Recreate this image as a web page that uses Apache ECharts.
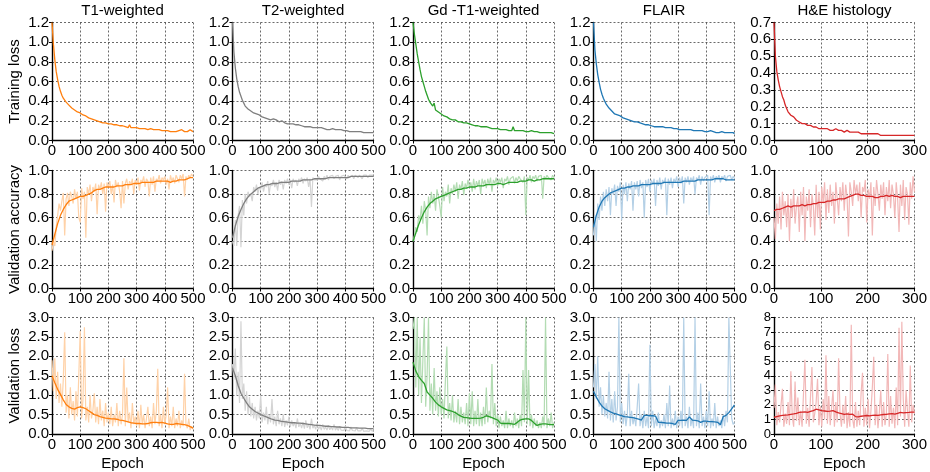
<!DOCTYPE html>
<html>
<head>
<meta charset="utf-8">
<script src="https://cdn.jsdelivr.net/npm/echarts@6/dist/echarts.min.js"></script>
<style>
  html, body { margin: 0; padding: 0; background: #fff; }
  #chart { width: 930px; height: 472px; }
</style>
</head>
<body>
<div id="chart"></div>
<script>
// column titles and row labels
const columns = ["T1-weighted", "T2-weighted", "Gd -T1-weighted", "FLAIR", "H&E histology"];
const rowNames = ["Training loss", "Validation accuracy", "Validation loss"];
const maxEpoch = [500, 500, 500, 500, 300];
const colors = ["#ff7f0e", "#7f7f7f", "#2ca02c", "#1f77b4", "#d62728"];
const lightColors = ["#ffd2a8", "#d4d4d4", "#b3dcb3", "#b4d0e6", "#f2b8b8"];

// training loss, every 5 epochs (H&E: every 3 epochs)
const trainT1 = [
  1.20,0.98,0.82,0.70,0.62,0.55,0.50,0.46,0.43,0.41,
  0.39,0.37,0.36,0.34,0.33,0.32,0.31,0.30,0.29,0.30,
  0.28,0.27,0.26,0.25,0.25,0.24,0.23,0.23,0.22,0.22,
  0.21,0.21,0.20,0.20,0.19,0.19,0.18,0.18,0.18,0.17,
  0.17,0.16,0.17,0.16,0.16,0.15,0.16,0.15,0.15,0.14,
  0.15,0.14,0.14,0.14,0.13,0.16,0.13,0.13,0.13,0.12,
  0.13,0.12,0.12,0.12,0.12,0.11,0.12,0.11,0.11,0.11,
  0.12,0.11,0.11,0.10,0.11,0.10,0.11,0.10,0.10,0.10,
  0.10,0.11,0.10,0.10,0.09,0.10,0.09,0.10,0.09,0.09,
  0.10,0.09,0.11,0.09,0.09,0.10,0.09,0.08,0.11,0.09,
  0.09];
const trainT2 = [
  1.20,0.90,0.74,0.63,0.55,0.49,0.45,0.41,0.38,0.35,
  0.33,0.32,0.30,0.30,0.29,0.28,0.27,0.27,0.26,0.26,
  0.25,0.24,0.24,0.23,0.24,0.22,0.22,0.21,0.21,0.22,
  0.20,0.21,0.20,0.19,0.19,0.20,0.18,0.18,0.19,0.17,
  0.17,0.17,0.16,0.17,0.16,0.16,0.15,0.16,0.15,0.15,
  0.15,0.14,0.15,0.14,0.14,0.14,0.16,0.13,0.14,0.13,
  0.13,0.13,0.12,0.13,0.12,0.12,0.12,0.11,0.12,0.11,
  0.11,0.12,0.11,0.11,0.10,0.11,0.10,0.11,0.10,0.10,
  0.11,0.10,0.10,0.09,0.10,0.09,0.10,0.09,0.09,0.09,
  0.09,0.09,0.09,0.08,0.09,0.08,0.09,0.08,0.08,0.08,
  0.08];
const trainGd = [
  1.20,1.08,0.98,0.88,0.80,0.72,0.65,0.60,0.55,0.50,
  0.46,0.42,0.39,0.37,0.35,0.38,0.31,0.30,0.29,0.28,
  0.27,0.26,0.25,0.24,0.24,0.23,0.22,0.22,0.21,0.21,
  0.21,0.20,0.19,0.20,0.19,0.18,0.18,0.17,0.18,0.17,
  0.17,0.16,0.16,0.16,0.15,0.15,0.15,0.14,0.14,0.14,
  0.14,0.13,0.14,0.13,0.13,0.13,0.12,0.13,0.12,0.12,
  0.12,0.12,0.11,0.12,0.11,0.11,0.11,0.11,0.10,0.11,
  0.10,0.14,0.10,0.10,0.10,0.10,0.10,0.09,0.10,0.09,
  0.09,0.09,0.09,0.09,0.10,0.09,0.09,0.08,0.09,0.08,
  0.08,0.08,0.08,0.09,0.08,0.08,0.08,0.08,0.08,0.07,
  0.07];
const trainFlair = [
  1.20,0.92,0.78,0.67,0.59,0.52,0.47,0.43,0.40,0.37,
  0.35,0.33,0.31,0.30,0.28,0.27,0.27,0.26,0.25,0.25,
  0.24,0.23,0.23,0.22,0.22,0.21,0.21,0.20,0.20,0.19,
  0.19,0.19,0.18,0.18,0.17,0.17,0.17,0.16,0.16,0.16,
  0.15,0.15,0.15,0.14,0.15,0.14,0.14,0.14,0.13,0.14,
  0.13,0.13,0.13,0.13,0.12,0.13,0.12,0.12,0.12,0.12,
  0.12,0.11,0.12,0.11,0.11,0.11,0.11,0.11,0.10,0.11,
  0.10,0.10,0.10,0.10,0.10,0.10,0.09,0.10,0.09,0.09,
  0.09,0.09,0.09,0.10,0.09,0.09,0.09,0.08,0.09,0.08,
  0.08,0.09,0.08,0.08,0.08,0.08,0.08,0.08,0.07,0.08,
  0.07];
const trainHE = [
  0.70,0.50,0.41,0.36,0.32,0.29,0.26,0.24,0.21,0.19,
  0.17,0.16,0.15,0.14,0.14,0.13,0.12,0.12,0.11,0.11,
  0.10,0.10,0.10,0.09,0.09,0.08,0.09,0.08,0.08,0.08,
  0.08,0.07,0.07,0.08,0.07,0.07,0.07,0.06,0.07,0.06,
  0.06,0.07,0.06,0.06,0.07,0.06,0.06,0.05,0.06,0.05,
  0.05,0.05,0.06,0.05,0.05,0.05,0.05,0.04,0.05,0.04,
  0.05,0.04,0.04,0.05,0.04,0.04,0.04,0.04,0.04,0.04,
  0.04,0.04,0.04,0.03,0.04,0.04,0.03,0.04,0.03,0.04,
  0.03,0.04,0.03,0.03,0.03,0.04,0.03,0.03,0.03,0.03,
  0.03,0.03,0.03,0.03,0.03,0.03,0.03,0.03,0.03,0.03,
  0.03];

// validation accuracy, raw every 5 epochs (H&E every 3)
const accRawT1 = [
  0.32,0.40,0.36,0.52,0.62,0.72,0.66,0.74,0.81,0.45,
  0.76,0.81,0.70,0.82,0.78,0.72,0.84,0.76,0.82,0.60,
  0.56,0.85,0.76,0.82,0.43,0.86,0.80,0.88,0.74,0.86,
  0.82,0.89,0.63,0.88,0.84,0.90,0.80,0.89,0.65,0.90,
  0.86,0.91,0.80,0.88,0.73,0.92,0.86,0.90,0.82,0.68,
  0.91,0.72,0.89,0.93,0.84,0.91,0.88,0.93,0.80,0.92,
  0.88,0.94,0.83,0.92,0.90,0.95,0.86,0.93,0.91,0.78,
  0.94,0.88,0.95,0.82,0.93,0.91,0.96,0.89,0.94,0.92,
  0.95,0.88,0.93,0.84,0.96,0.91,0.94,0.89,0.96,0.93,
  0.90,0.96,0.93,0.97,0.78,0.95,0.92,0.96,0.94,0.97,
  0.95];
const accRawT2 = [
  0.40,0.36,0.58,0.36,0.62,0.70,0.35,0.75,0.62,0.80,
  0.72,0.82,0.78,0.80,0.74,0.86,0.82,0.88,0.80,0.86,
  0.84,0.90,0.82,0.88,0.86,0.91,0.80,0.89,0.87,0.92,
  0.86,0.90,0.83,0.92,0.88,0.91,0.84,0.92,0.89,0.93,
  0.88,0.92,0.85,0.93,0.90,0.92,0.87,0.93,0.91,0.94,
  0.89,0.93,0.91,0.94,0.86,0.93,0.69,0.94,0.92,0.93,
  0.92,0.95,0.93,0.94,0.91,0.95,0.93,0.96,0.92,0.95,
  0.94,0.96,0.93,0.95,0.94,0.96,0.92,0.95,0.94,0.96,
  0.95,0.93,0.96,0.94,0.95,0.96,0.93,0.96,0.95,0.94,
  0.96,0.95,0.93,0.96,0.95,0.96,0.94,0.96,0.95,0.96,
  0.96];
const accRawGd = [
  0.40,0.45,0.52,0.48,0.62,0.58,0.70,0.55,0.74,0.66,
  0.45,0.78,0.68,0.82,0.72,0.80,0.66,0.84,0.78,0.70,
  0.60,0.86,0.74,0.82,0.78,0.88,0.72,0.85,0.80,0.88,
  0.82,0.90,0.76,0.88,0.84,0.91,0.79,0.89,0.85,0.92,
  0.86,0.90,0.82,0.93,0.84,0.91,0.87,0.92,0.80,0.93,
  0.88,0.92,0.85,0.93,0.88,0.94,0.82,0.92,0.89,0.94,
  0.87,0.93,0.90,0.94,0.85,0.93,0.91,0.95,0.88,0.93,
  0.92,0.95,0.89,0.94,0.91,0.95,0.93,0.94,0.90,0.95,
  0.62,0.94,0.92,0.96,0.90,0.95,0.93,0.96,0.91,0.95,
  0.94,0.96,0.76,0.95,0.93,0.96,0.94,0.95,0.92,0.96,
  0.94];
const accRawFlair = [
  0.45,0.62,0.40,0.72,0.58,0.78,0.66,0.82,0.70,0.84,
  0.74,0.86,0.62,0.85,0.80,0.88,0.70,0.87,0.82,0.90,
  0.58,0.88,0.80,0.90,0.74,0.89,0.84,0.91,0.66,0.90,
  0.84,0.91,0.78,0.92,0.85,0.90,0.60,0.92,0.86,0.93,
  0.82,0.92,0.88,0.93,0.70,0.92,0.87,0.94,0.84,0.92,
  0.89,0.94,0.62,0.93,0.88,0.94,0.85,0.93,0.90,0.95,
  0.86,0.94,0.89,0.95,0.72,0.94,0.90,0.95,0.88,0.94,
  0.91,0.95,0.80,0.94,0.92,0.96,0.88,0.95,0.91,0.94,
  0.93,0.96,0.62,0.95,0.92,0.96,0.90,0.95,0.93,0.96,
  0.90,0.95,0.93,0.96,0.91,0.95,0.94,0.96,0.92,0.95,
  0.93];
const accRawHE = [
  0.60,0.42,0.72,0.55,0.78,0.50,0.82,0.62,0.74,0.52,
  0.80,0.40,0.76,0.60,0.84,0.55,0.70,0.78,0.48,0.82,
  0.62,0.86,0.40,0.78,0.66,0.84,0.52,0.80,0.70,0.45,
  0.88,0.60,0.82,0.50,0.86,0.72,0.90,0.58,0.84,0.64,
  0.88,0.70,0.82,0.55,0.90,0.76,0.62,0.86,0.74,0.90,
  0.66,0.88,0.78,0.44,0.90,0.82,0.70,0.92,0.80,0.88,
  0.74,0.90,0.60,0.86,0.82,0.92,0.56,0.84,0.76,0.90,
  0.45,0.86,0.70,0.92,0.80,0.66,0.88,0.76,0.90,0.62,
  0.86,0.74,0.92,0.68,0.88,0.80,0.60,0.90,0.76,0.48,
  0.88,0.70,0.92,0.58,0.86,0.80,0.54,0.90,0.76,0.95,
  0.82];

// validation accuracy, smoothed, every 10 epochs (H&E every 6)
const accT1 = [
  0.37,0.46,0.55,0.62,0.67,0.71,0.74,0.75,0.76,0.77,
  0.78,0.78,0.79,0.80,0.81,0.83,0.84,0.84,0.85,0.86,
  0.86,0.86,0.86,0.87,0.87,0.87,0.88,0.88,0.88,0.89,
  0.89,0.89,0.90,0.90,0.90,0.90,0.90,0.91,0.91,0.91,
  0.91,0.91,0.90,0.91,0.91,0.92,0.92,0.92,0.93,0.94,
  0.94];
const accT2 = [
  0.43,0.53,0.61,0.67,0.72,0.76,0.79,0.81,0.83,0.85,
  0.86,0.87,0.88,0.88,0.89,0.89,0.89,0.90,0.90,0.90,
  0.90,0.91,0.91,0.91,0.91,0.92,0.92,0.92,0.92,0.93,
  0.93,0.93,0.93,0.93,0.94,0.94,0.94,0.94,0.94,0.94,
  0.94,0.94,0.95,0.95,0.95,0.95,0.95,0.95,0.95,0.95,
  0.95];
const accGd = [
  0.40,0.47,0.54,0.60,0.65,0.69,0.72,0.74,0.76,0.77,
  0.78,0.79,0.80,0.81,0.82,0.83,0.84,0.84,0.85,0.85,
  0.86,0.86,0.86,0.87,0.87,0.87,0.88,0.88,0.88,0.88,
  0.89,0.89,0.88,0.89,0.90,0.90,0.90,0.90,0.91,0.91,
  0.91,0.92,0.92,0.91,0.92,0.92,0.93,0.93,0.93,0.93,
  0.93];
const accFlair = [
  0.52,0.62,0.69,0.74,0.77,0.79,0.81,0.82,0.83,0.84,
  0.85,0.85,0.86,0.86,0.87,0.87,0.87,0.88,0.88,0.88,
  0.88,0.89,0.89,0.89,0.89,0.90,0.90,0.90,0.90,0.90,
  0.90,0.90,0.91,0.91,0.91,0.91,0.91,0.92,0.92,0.92,
  0.92,0.92,0.92,0.93,0.93,0.93,0.93,0.92,0.92,0.92,
  0.92];
const accHE = [
  0.66,0.67,0.67,0.68,0.69,0.70,0.69,0.70,0.70,0.70,
  0.71,0.70,0.71,0.71,0.72,0.72,0.73,0.73,0.73,0.74,
  0.74,0.75,0.75,0.76,0.76,0.76,0.77,0.78,0.79,0.80,
  0.80,0.79,0.79,0.78,0.78,0.78,0.77,0.77,0.78,0.78,
  0.79,0.78,0.79,0.78,0.78,0.77,0.78,0.78,0.78,0.78,
  0.78];

// validation loss, raw every 5 epochs (H&E every 3)
const lossRawT1 = [
  1.90,1.10,1.95,0.90,1.60,0.80,1.30,0.70,1.40,2.62,
  0.55,1.00,0.40,1.20,0.50,0.85,0.35,1.10,0.45,1.50,
  2.65,0.40,0.90,2.75,0.35,0.70,0.30,1.00,0.40,0.60,
  1.05,0.30,0.70,0.25,0.90,0.35,0.60,0.20,0.80,0.30,
  0.55,0.25,0.70,0.20,0.50,0.30,0.80,0.20,0.60,0.25,
  0.50,1.95,0.20,1.20,0.30,0.55,0.15,0.80,0.25,0.45,
  0.20,0.60,0.15,0.75,0.25,0.50,0.15,0.40,0.70,0.20,
  0.45,0.15,0.80,0.25,0.60,1.68,0.20,0.50,0.15,0.70,
  0.25,0.50,1.20,0.15,0.45,0.20,0.70,0.15,0.40,0.20,
  0.60,0.15,0.35,0.20,1.55,0.25,0.15,0.40,0.10,0.20,
  0.12];
const lossRawT2 = [
  1.80,1.40,2.20,1.00,1.60,0.80,2.90,0.90,1.30,0.60,
  1.10,0.50,0.95,0.45,0.80,0.40,0.70,0.35,0.60,0.40,
  1.00,0.30,0.55,0.35,0.70,0.25,0.50,0.30,0.90,0.25,
  0.45,0.20,0.60,0.25,0.40,0.20,0.50,0.18,0.35,0.22,
  0.45,0.18,0.35,0.20,0.30,0.15,0.40,0.18,0.28,0.15,
  0.30,0.14,0.35,0.16,0.25,0.12,0.40,0.15,0.22,0.12,
  0.28,0.12,0.20,0.10,0.25,0.12,0.18,0.10,0.22,0.11,
  0.18,0.10,0.25,0.10,0.16,0.09,0.20,0.10,0.15,0.09,
  0.20,0.09,0.14,0.08,0.18,0.09,0.13,0.08,0.16,0.08,
  0.12,0.08,0.15,0.07,0.12,0.08,0.10,0.07,0.13,0.07,
  0.10];
const lossRawGd = [
  2.70,3.00,1.20,3.00,1.00,2.50,0.80,1.90,3.00,0.70,
  1.50,3.00,0.60,1.30,0.50,1.70,0.60,1.10,0.45,1.20,
  0.50,0.90,0.40,1.40,2.25,0.40,0.80,0.35,1.00,0.30,
  0.60,0.30,0.90,0.25,0.70,0.30,0.55,0.25,0.80,0.20,
  1.05,0.25,1.10,0.20,0.60,0.25,0.90,0.20,0.55,0.20,
  0.70,0.25,1.20,0.30,0.60,0.40,1.80,0.25,0.80,0.20,
  0.50,0.15,0.45,0.20,0.35,0.15,0.60,0.15,0.40,0.20,
  0.35,0.15,0.55,0.20,0.40,0.15,0.50,0.20,1.65,0.30,
  3.00,0.25,1.65,0.20,0.50,0.15,0.40,0.20,0.35,0.15,
  0.30,0.15,0.45,0.20,3.00,0.15,0.40,0.20,0.55,0.15,
  0.30];
const lossRawFlair = [
  1.20,1.80,0.90,2.00,0.70,1.20,0.50,1.00,0.45,0.80,
  0.40,1.60,0.35,0.90,0.30,1.10,0.35,0.70,3.00,0.30,
  0.80,0.25,0.60,0.20,0.50,1.55,0.20,0.60,0.25,0.45,
  0.20,0.70,1.30,0.20,0.50,0.15,0.60,0.20,0.45,0.15,
  2.30,0.20,0.60,0.15,0.40,0.20,0.55,0.15,0.35,0.20,
  0.50,0.15,0.80,0.20,1.25,0.15,0.40,0.20,0.60,0.15,
  0.45,0.20,0.60,0.15,3.00,0.20,0.45,0.15,0.70,0.20,
  0.40,0.15,3.00,0.20,0.55,0.15,1.30,0.20,0.45,0.15,
  0.60,0.20,1.10,0.15,0.40,0.20,0.80,0.15,0.45,0.20,
  0.35,0.15,0.50,0.20,0.60,0.30,3.00,3.00,0.40,0.25,
  0.30];
const lossRawHE = [
  1.80,3.40,0.60,1.50,0.80,2.00,3.10,0.50,1.40,0.70,
  2.20,0.60,4.30,1.20,0.50,3.60,0.90,2.50,0.60,1.60,
  0.50,2.80,5.10,0.70,1.80,0.50,2.60,4.60,0.80,1.40,
  2.20,3.80,0.60,1.90,0.50,2.40,1.00,5.40,0.70,2.60,
  0.60,1.80,3.00,0.50,2.20,0.80,5.20,1.40,0.50,2.00,
  0.70,2.60,0.40,1.50,0.50,7.50,1.00,0.40,2.20,0.50,
  1.60,0.60,2.80,4.20,0.50,1.80,0.60,2.40,0.40,1.60,
  3.20,5.30,0.60,2.00,0.40,1.50,3.00,0.50,2.20,0.60,
  1.40,5.50,0.50,2.60,0.70,1.80,0.40,3.20,0.60,7.30,
  1.20,7.70,2.40,0.50,3.00,1.60,0.50,4.70,0.80,2.00,
  1.40];

// validation loss, smoothed, every 10 epochs (H&E every 6)
const lossT1 = [
  1.50,1.32,1.15,1.02,0.88,0.76,0.70,0.66,0.64,0.68,
  0.70,0.68,0.65,0.60,0.55,0.50,0.48,0.45,0.43,0.41,
  0.40,0.39,0.39,0.38,0.36,0.35,0.33,0.31,0.29,0.28,
  0.27,0.27,0.26,0.26,0.27,0.29,0.30,0.30,0.29,0.30,
  0.28,0.26,0.25,0.25,0.27,0.26,0.25,0.24,0.22,0.19,
  0.15];
const lossT2 = [
  1.70,1.50,1.25,1.05,0.92,0.80,0.70,0.64,0.58,0.54,
  0.50,0.47,0.44,0.41,0.38,0.36,0.35,0.33,0.32,0.31,
  0.30,0.29,0.29,0.28,0.28,0.27,0.26,0.25,0.24,0.23,
  0.22,0.22,0.21,0.20,0.20,0.19,0.19,0.18,0.18,0.17,
  0.17,0.17,0.16,0.16,0.16,0.15,0.15,0.15,0.14,0.14,
  0.14];
const lossGd = [
  1.85,1.62,1.48,1.38,1.30,1.08,1.00,0.92,0.82,0.75,
  0.70,0.66,0.62,0.60,0.58,0.55,0.50,0.46,0.43,0.42,
  0.41,0.40,0.40,0.40,0.41,0.43,0.47,0.45,0.42,0.39,
  0.36,0.28,0.27,0.27,0.27,0.26,0.25,0.30,0.36,0.38,
  0.39,0.39,0.35,0.28,0.22,0.25,0.26,0.26,0.25,0.24,
  0.24];
const lossFlair = [
  1.10,0.95,0.82,0.72,0.65,0.61,0.57,0.54,0.52,0.49,
  0.47,0.45,0.44,0.43,0.42,0.40,0.38,0.36,0.48,0.48,
  0.47,0.47,0.46,0.30,0.30,0.29,0.28,0.28,0.27,0.25,
  0.35,0.35,0.36,0.35,0.44,0.36,0.35,0.34,0.30,0.33,
  0.33,0.32,0.32,0.31,0.30,0.24,0.45,0.48,0.55,0.65,
  0.75];
const lossHE = [
  1.15,1.20,1.25,1.28,1.30,1.32,1.35,1.38,1.42,1.48,
  1.50,1.52,1.48,1.55,1.60,1.70,1.65,1.60,1.58,1.55,
  1.57,1.60,1.52,1.45,1.40,1.35,1.38,1.35,1.36,1.20,
  1.18,1.22,1.25,1.27,1.25,1.28,1.30,1.28,1.32,1.34,
  1.35,1.38,1.40,1.36,1.42,1.48,1.45,1.47,1.48,1.50,
  1.50];

const trainSets = [trainT1, trainT2, trainGd, trainFlair, trainHE];
const accRawSets = [accRawT1, accRawT2, accRawGd, accRawFlair, accRawHE];
const accSets = [accT1, accT2, accGd, accFlair, accHE];
const lossRawSets = [lossRawT1, lossRawT2, lossRawGd, lossRawFlair, lossRawHE];
const lossSets = [lossT1, lossT2, lossGd, lossFlair, lossHE];

// layout in pixels
const gridLeft = [52, 232.5, 413, 593.5, 774];
const gridTop = [22.5, 170.5, 317.5];
const gridW = 141;
const gridH = 118;
const FONT = "Liberation Sans, Arial, sans-serif";

// turn a value list into [epoch, value] pairs spread over the epoch range
const pairs = (arr, last) => {
  const step = last / (arr.length - 1);
  return arr.map((v, i) => [Math.round(i * step), v]);
};

const grids = [], xAxes = [], yAxes = [], series = [];
const yRange = (row, col) => {
  if (row === 0) return col === 4 ? [0, 0.7, 0.1] : [0, 1.2, 0.2];
  if (row === 1) return [0, 1, 0.2];
  return col === 4 ? [0, 8, 1] : [0, 3, 0.5];
};

for (let row = 0; row < 3; row++) {
  for (let col = 0; col < 5; col++) {
    const k = grids.length;
    grids.push({ left: gridLeft[col], top: gridTop[row], width: gridW, height: gridH });
    const dotted = { show: true, lineStyle: { color: "#444", type: [2, 2], width: 0.8 } };
    xAxes.push({
      type: "value", gridIndex: k, min: 0, max: maxEpoch[col], interval: 100,
      axisLine: { lineStyle: { color: "#000", width: 1.4 } },
      axisTick: { lineStyle: { color: "#000" }, length: 3 },
      axisLabel: {
        color: "#000", fontSize: 15, fontFamily: FONT, margin: 3,
        showMinLabel: true, showMaxLabel: true,
      },
      splitLine: dotted,
      name: row === 2 ? "Epoch" : "", nameLocation: "middle", nameGap: 22,
      nameTextStyle: { color: "#000", fontSize: 15, fontFamily: FONT },
    });
    const [lo, hi, step] = yRange(row, col);
    // the 0..8 axis is tight, so its labels are a bit smaller
    const ySize = step >= 1 ? 13 : 15;
    yAxes.push({
      type: "value", gridIndex: k, min: lo, max: hi, interval: step,
      axisLine: { show: true, lineStyle: { color: "#000", width: 1.4 } },
      axisTick: { show: true, lineStyle: { color: "#000" }, length: 3 },
      axisLabel: {
        color: "#000", fontSize: ySize, fontFamily: FONT, margin: 3,
        showMinLabel: true, showMaxLabel: true,
        formatter: (v) => (step >= 1 ? String(v) : v.toFixed(1)),
      },
      splitLine: dotted,
      name: col === 0 ? rowNames[row] : "", nameLocation: "middle", nameGap: 30,
      nameTextStyle: { color: "#000", fontSize: 15, fontFamily: FONT },
    });
    const last = maxEpoch[col];
    if (row === 0) {
      series.push({
        type: "line", xAxisIndex: k, yAxisIndex: k, symbol: "none",
        data: pairs(trainSets[col], last),
        lineStyle: { color: colors[col], width: 1.3 },
      });
    } else {
      const raw = row === 1 ? accRawSets[col] : lossRawSets[col];
      const smooth = row === 1 ? accSets[col] : lossSets[col];
      series.push({
        type: "line", xAxisIndex: k, yAxisIndex: k, symbol: "none",
        data: pairs(raw, last),
        lineStyle: { color: lightColors[col], width: 1.2 },
      });
      series.push({
        type: "line", xAxisIndex: k, yAxisIndex: k, symbol: "none",
        data: pairs(smooth, last),
        lineStyle: { color: colors[col], width: 1.3 },
      });
    }
  }
}

// column titles above each column
const titles = columns.map((c, i) => ({
  type: "text",
  x: gridLeft[i] + gridW / 2, y: 3,
  style: { text: c, fill: "#000", font: "15px " + FONT, textAlign: "center" },
}));

const chart = echarts.init(document.getElementById("chart"), null, { renderer: "canvas" });
chart.setOption({
  animation: false,
  backgroundColor: "#fff",
  grid: grids,
  xAxis: xAxes,
  yAxis: yAxes,
  series: series,
  graphic: titles,
});
</script>
</body>
</html>
